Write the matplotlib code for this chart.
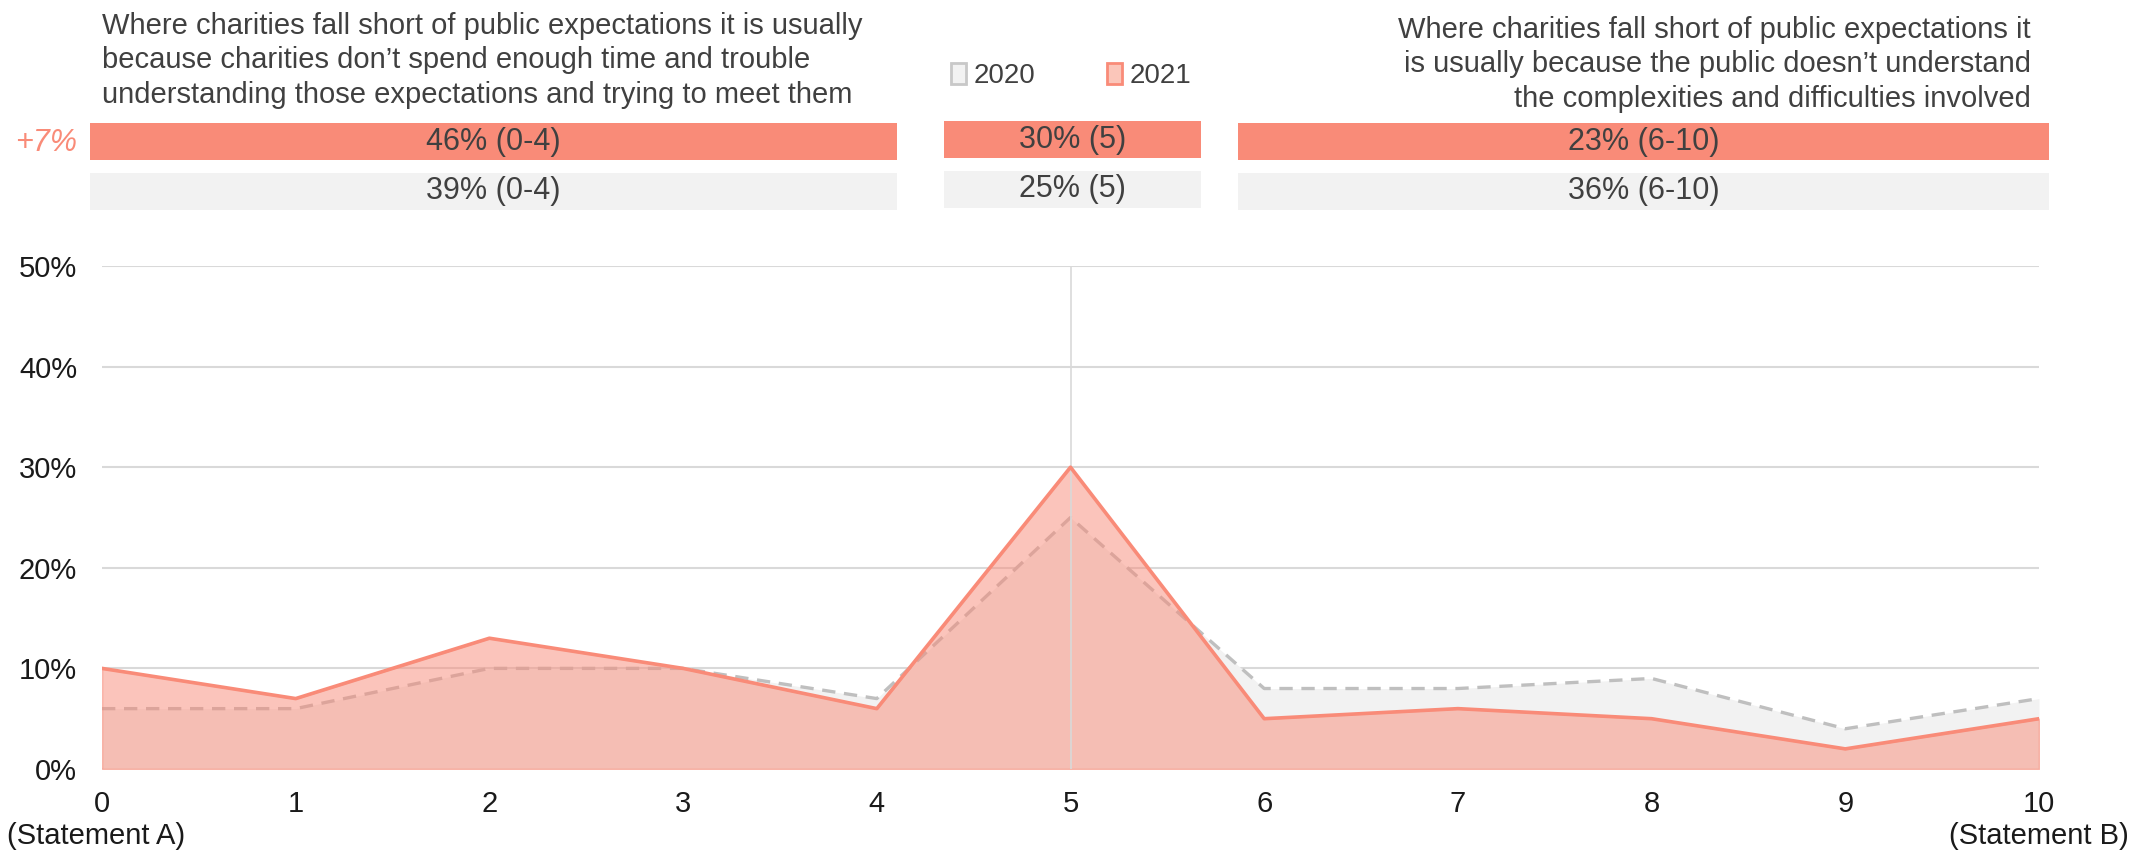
import matplotlib.pyplot as plt
from matplotlib.patches import Patch
import numpy as np

plt.rcParams['font.family'] = ['Liberation Sans', 'DejaVu Sans']

# 0-10 scale between statement A and statement B
scale = list(range(11))
share_2020 = [6, 6, 10, 10, 7, 25, 8, 8, 9, 4, 7]
share_2021 = [10, 7, 13, 10, 6, 30, 5, 6, 5, 2, 5]

# grouped totals shown above the chart
groups = ['0-4', '5', '6-10']
group_2021 = [46, 30, 23]
group_2020 = [39, 25, 36]

statement_a = ("Where charities fall short of public expectations it is usually\n"
               "because charities don\u2019t spend enough time and trouble\n"
               "understanding those expectations and trying to meet them")
statement_b = ("Where charities fall short of public expectations it\n"
               "is usually because the public doesn\u2019t understand\n"
               "the complexities and difficulties involved")

SALMON = '#F98B78'
PINK = '#FBC6BA'
LIGHT = '#F2F2F2'
GRID = '#D9D9D9'
DASH = '#BFBFBF'
TXT = '#404040'
TICK = '#1A1A1A'

W, H = 2131, 852
fig = plt.figure(figsize=(W / 100, H / 100), dpi=100)


def px_rect(x0, y0, x1, y1):
    # pixel box (top-left origin) -> figure fraction rect
    return [x0 / W, 1 - y1 / H, (x1 - x0) / W, (y1 - y0) / H]


# main area chart
ax = fig.add_axes(px_rect(102, 266, 2039, 769))
y20 = np.array(share_2020) / 100
y21 = np.array(share_2021) / 100
ax.fill_between(scale, 0, y20, color=LIGHT, lw=0, zorder=1)
l20, = ax.plot(scale, y20, color=DASH, lw=2.4, zorder=2)
l20.set_dashes((4.0, 2.6))
ax.fill_between(scale, 0, y21, facecolor=SALMON, alpha=0.5, edgecolor=SALMON, lw=1.2, zorder=3)
ax.axvline(5, color=GRID, lw=1.2, zorder=4)
ax.plot(scale, y21, color=SALMON, lw=2.6, zorder=5)

ax.set_xlim(0, 10)
ax.set_ylim(0, 0.5)
ax.set_yticks(np.arange(0, 0.51, 0.1))
ax.set_yticklabels([f'{int(round(v * 100))}%' for v in np.arange(0, 0.51, 0.1)])
ax.set_xticks(scale)
ax.grid(axis='y', color=GRID, lw=1.5, zorder=0)
ax.set_axisbelow(True)
for s in ax.spines.values():
    s.set_visible(False)
ax.tick_params(axis='both', length=0, labelsize=21, labelcolor=TICK)
ax.tick_params(axis='x', pad=15)
ax.tick_params(axis='y', pad=18)

fig.text(7 / W, 1 - 836 / H, '(Statement A)', ha='left', va='center', fontsize=21, color=TICK)
fig.text(2129 / W, 1 - 836 / H, '(Statement B)', ha='right', va='center', fontsize=21, color=TICK)

# summary bars for each group
boxes = [(90, 897, 123), (944, 1201, 121), (1238, 2049, 123)]
for (x0, x1, top), g, v21, v20 in zip(boxes, groups, group_2021, group_2020):
    bax = fig.add_axes(px_rect(x0, top, x1, top + 87))
    bax.barh([0.213, 0.787], [1, 1], height=0.425, color=[SALMON, LIGHT])
    bax.text(0.5, 0.213, f'{v21}% ({g})', ha='center', va='center', fontsize=22, color=TXT)
    bax.text(0.5, 0.787, f'{v20}% ({g})', ha='center', va='center', fontsize=22, color=TXT)
    bax.set_xlim(0, 1)
    bax.set_ylim(1, 0)
    bax.axis('off')

diff = group_2021[0] - group_2020[0]
fig.text(77 / W, 1 - 143 / H, f'+{diff}%', ha='right', va='center', fontsize=22,
         color=SALMON, style='italic')

# statement captions
fig.text(102 / W, 1 - 12 / H, statement_a, ha='left', va='top', fontsize=21,
         color=TXT, linespacing=1.29)
fig.text(2031 / W, 1 - 16 / H, statement_b, ha='right', va='top', fontsize=21,
         color=TXT, linespacing=1.29, multialignment='right')

handles = [Patch(facecolor=LIGHT, edgecolor='#C8C8C8', lw=2, label='2020'),
           Patch(facecolor=PINK, edgecolor=SALMON, lw=2, label='2021')]
fig.legend(handles=handles, loc='center', bbox_to_anchor=(1071 / W, 1 - 76 / H), ncol=2,
           frameon=False, fontsize=20, handlelength=0.55, handleheight=0.8,
           handletextpad=0.25, columnspacing=2.6, labelcolor=TXT)

fig.savefig('out.png', dpi=100)
